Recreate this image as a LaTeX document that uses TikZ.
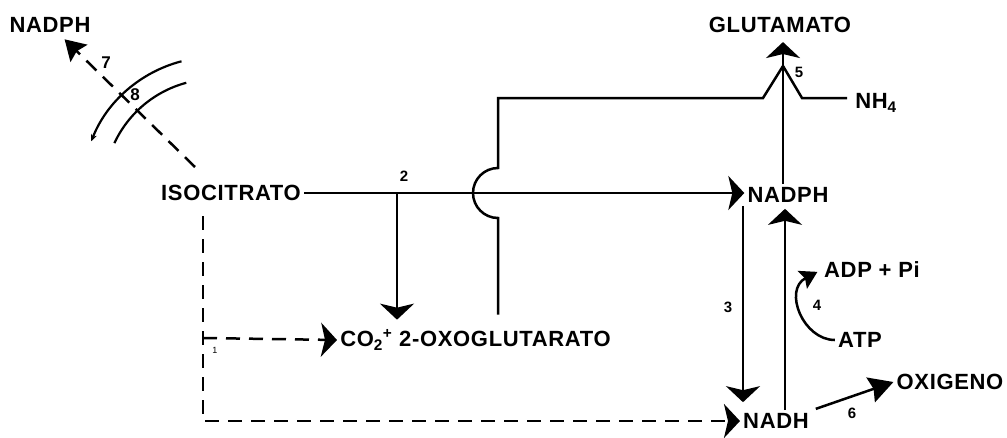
\documentclass[tikz,border=0pt]{standalone}
\usepackage{fontspec}
\setmainfont{Liberation Sans}[LetterSpace=3]
\usetikzlibrary{arrows.meta}
\usetikzlibrary{calc}

\begin{document}
\begin{tikzpicture}[x=1pt, y=1pt, yscale=-1, line width=2.5pt,
    every node/.style={inner sep=2pt, font=\fontsize{22}{26}\selectfont\bfseries},
    num/.style={font=\fontsize{15}{17}\selectfont\bfseries},
    dashline/.style={dash pattern=on 14pt off 9pt},
    big/.style={-{Stealth[width=34pt, length=16pt, inset=4pt]}}]
    \useasboundingbox (0,0) rectangle (1007,437);

    % metabolites
    \node (nadphout) at (50,25) {NADPH};
    \node (isocit) at (231,193) {ISOCITRATO};
    \node (glut) at (780,25) {GLUTAMATO};
    \node (nh4) [anchor=west] at (852,103) {NH\textsubscript{4}};
    \node (nadph) at (788,195) {NADPH};
    \node (oxo) [anchor=west] at (337,340) {CO\textsubscript{2}\textsuperscript{+}~2-OXOGLUTARATO};
    \node (adp) at (872,270) {ADP + Pi};
    \node (atp) at (860,340) {ATP};
    \node (nadh) at (776,421) {NADH};
    \node (oxig) at (950,382) {OXIGENO};

    % reaction numbers
    \node (l1) [num, font=\fontsize{9}{10}\selectfont] at (215,350) {1};
    \node (l2) [num] at (404,176) {2};
    \node (l3) [num] at (728,307) {3};
    \node (l4) [num] at (817,305) {4};
    \node (l5) [num] at (799,72) {5};
    \node (l6) [num] at (852,413) {6};
    \node (l7) [num, font=\fontsize{17}{19}\selectfont\bfseries] at (106,63) {7};
    \node (l8) [num, font=\fontsize{17}{19}\selectfont\bfseries] at (135,95) {8};

    \coordinate (c7) at (195,167);
    \coordinate (c2) at (397,193);
    \coordinate (hop) at (498,193);
    \coordinate (apex) at (783,66);
    \coordinate (nhend) at (847,98);
    \coordinate (dl) at (203,338);

    % membrane
    \draw[line width=2.2pt, -{Stealth[width=6pt, length=7pt]}] (215,190) ++(-104.6:133)
        arc[start angle=-104.6, end angle=-158.5, radius=133];
    \draw[line width=2.2pt] (215,190) ++(-105:111)
        arc[start angle=-105, end angle=-155, radius=111];

    \draw[dashline, -{Stealth[width=24pt, length=20pt, inset=3pt]}, shorten >=5pt] (c7) -- (nadphout);
    \draw[big] (isocit.east) -- (isocit.east -| nadph.west);
    \draw[big, shorten >=7pt] (c2) -- (c2 |- oxo.north);
    \draw[shorten <=12pt] (oxo.north -| hop) -- ($(hop)+(0,25)$)
        arc[start angle=90, end angle=270, radius=25] -- (498,98) -- (763,98) -- (apex);
    \draw (nhend) -- (802,98) -- (apex);
    \draw[big, shorten >=6pt] (nadph.north -| apex) -- (glut.south -| apex);
    \draw[big, shorten >=8pt] (nadph.south -| 743,0) -- (nadh.north -| 743,0);
    \draw[big, shorten >=3pt] (nadh.north -| 785,0) -- (nadph.south -| 785,0);
    \draw[dashline, big, shorten <=12pt] (isocit.south -| dl) -- (dl |- nadh) -- (nadh.west);
    \draw[dashline, big] (dl) -- (oxo.west);
    \draw[-{Stealth[width=20pt, length=17pt, inset=3pt]}, shorten >=4pt] (atp.west)
        .. controls (803,340) and (783,290) .. (adp.west);
    \draw[-{Stealth[width=26pt, length=24pt, inset=3pt]}, shorten <=4pt] (nadh.north east) -- (oxig.west);
\end{tikzpicture}
\end{document}
